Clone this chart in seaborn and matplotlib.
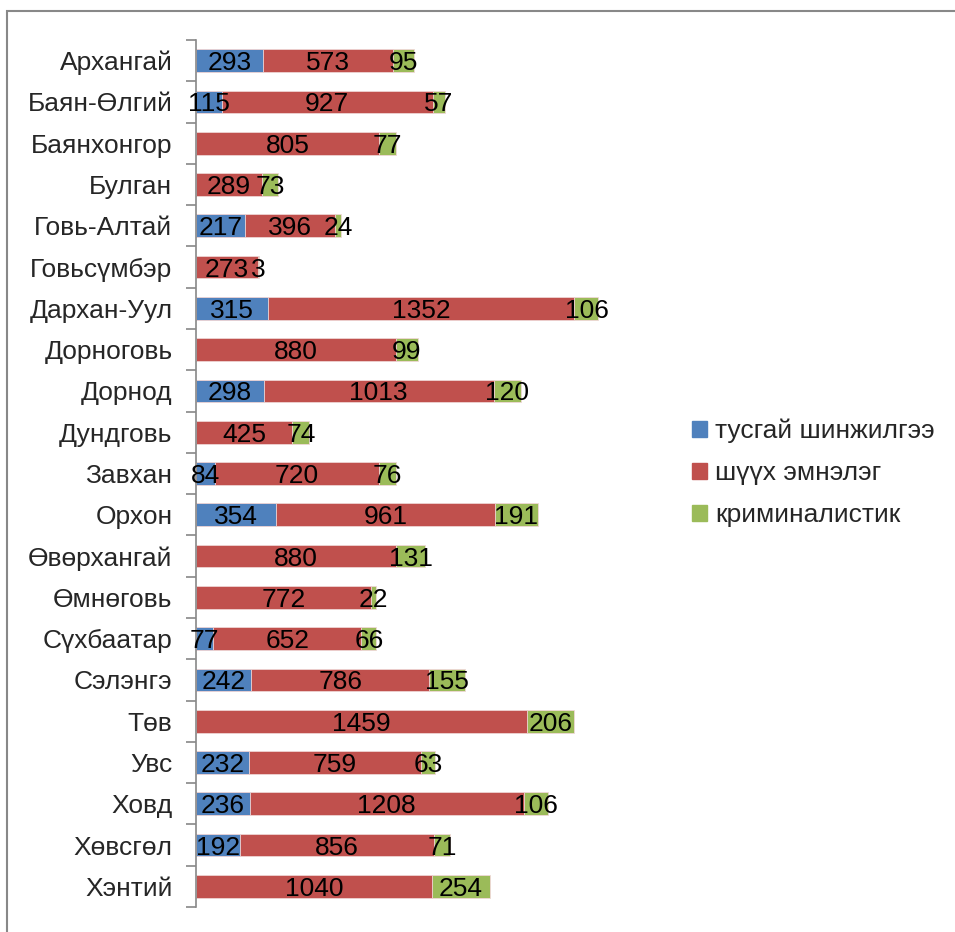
import matplotlib
matplotlib.use("Agg")
import matplotlib.pyplot as plt
import matplotlib.patches as mpatches
import seaborn as sns
import numpy as np
import pandas as pd

aimags = ["Архангай", "Баян-Өлгий", "Баянхонгор", "Булган", "Говь-Алтай",
          "Говьсүмбэр", "Дархан-Уул", "Дорноговь", "Дорнод", "Дундговь",
          "Завхан", "Орхон", "Өвөрхангай", "Өмнөговь", "Сүхбаатар",
          "Сэлэнгэ", "Төв", "Увс", "Ховд", "Хөвсгөл", "Хэнтий"]
tusgai = [293, 115, 0, 0, 217, 0, 315, 0, 298, 0, 84, 354, 0, 0, 77, 242, 0, 232, 236, 192, 0]
shuukh = [573, 927, 805, 289, 396, 273, 1352, 880, 1013, 425, 720, 961, 880, 772, 652, 786, 1459, 759, 1208, 856, 1040]
krimin = [95, 57, 77, 73, 24, 3, 106, 99, 120, 74, 76, 191, 131, 22, 66, 155, 206, 63, 106, 71, 254]
series = ["тусгай шинжилгээ", "шүүх эмнэлэг", "криминалистик"]
colors = ["#4F81BD", "#C0504D", "#9BBB59"]

df = pd.DataFrame({"aimag": aimags, "s1": tusgai, "s2": shuukh, "s3": krimin})
df["c1"] = df["s1"]
df["c2"] = df["c1"] + df["s2"]
df["c3"] = df["c2"] + df["s3"]

sns.set_style("white")
plt.rcParams["font.family"] = ["Liberation Sans", "DejaVu Sans"]
fs = 19

fig = plt.figure(figsize=(9.55, 9.32), dpi=100)
ax = fig.add_axes([196 / 955, 1 - 907 / 932, 454 / 955, 867 / 932])

# stacked look: draw cumulative totals from the back to the front
for col, color in zip(["c3", "c2", "c1"], colors[::-1]):
    sns.barplot(data=df, y="aimag", x=col, color=color, orient="h",
                width=0.55, saturation=1, ax=ax, order=aimags,
                linewidth=0.6, edgecolor="#f0d8d8")

ax.set_xlim(0, 2000)
ax.set_ylim(len(aimags) - 0.5, -0.5)
ax.set_xlabel("")
ax.set_ylabel("")
ax.set_xticks([])
for side in ["top", "right", "bottom"]:
    ax.spines[side].set_visible(False)
ax.spines["left"].set_color("#888888")
ax.spines["left"].set_linewidth(1.2)
ax.tick_params(axis="y", which="major", length=0, labelsize=fs, pad=17)
ax.set_yticks(np.arange(-0.5, len(aimags)), minor=True)
ax.tick_params(axis="y", which="minor", left=True, length=7,
               color="#888888", width=1.2)

for i in range(len(aimags)):
    for val, cum in [(df.s1[i], df.c1[i]), (df.s2[i], df.c2[i]), (df.s3[i], df.c3[i])]:
        if val > 0:
            ax.text(cum - val / 2, i, str(val), ha="center", va="center_baseline",
                    fontsize=fs, color="black")

handles = [mpatches.Patch(color=c, label=s) for c, s in zip(colors, series)]
fig.legend(handles=handles, loc="center left", bbox_to_anchor=(0.725, 1 - 473 / 932),
           frameon=False, fontsize=fs, handlelength=0.55, handleheight=0.55,
           handletextpad=0.3, labelspacing=0.68, borderpad=0, borderaxespad=0)

# outer chart border
fig.add_artist(mpatches.Rectangle((7 / 955, -0.05), 1.1, 1 - 11 / 932 + 0.05,
                                  transform=fig.transFigure, fill=False,
                                  edgecolor="#888888", linewidth=1.5))

fig.savefig("out.png", dpi=100)
